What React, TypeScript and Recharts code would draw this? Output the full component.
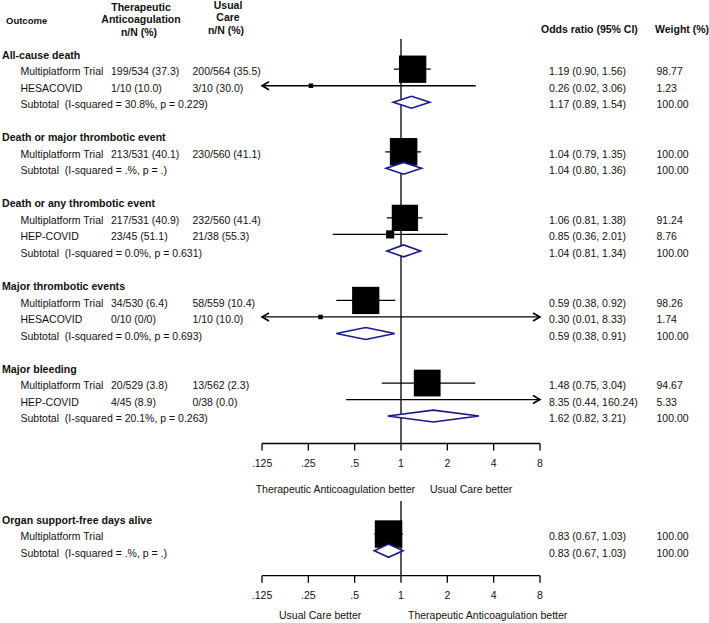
import React from 'react';
import { ScatterChart, Scatter, XAxis, YAxis, ReferenceLine } from 'recharts';

const FONT = '"Liberation Sans", Arial, Helvetica, sans-serif';
const TEXT = '#111';
const NAVY = '#16198a';

// ---------- main panel data ----------
const outcomes = [
  'All-cause death',
  'Death or major thrombotic event',
  'Death or any thrombotic event',
  'Major thrombotic events',
  'Major bleeding',
];
const studyOutcome = [0, 0, 1, 2, 2, 3, 3, 4, 4];
const studyNames = [
  'Multiplatform Trial', 'HESACOVID',
  'Multiplatform Trial',
  'Multiplatform Trial', 'HEP-COVID',
  'Multiplatform Trial', 'HESACOVID',
  'Multiplatform Trial', 'HEP-COVID',
];
const taCounts = ['199/534 (37.3)', '1/10 (10.0)', '213/531 (40.1)', '217/531 (40.9)', '23/45 (51.1)', '34/530 (6.4)', '0/10 (0/0)', '20/529 (3.8)', '4/45 (8.9)'];
const ucCounts = ['200/564 (35.5)', '3/10 (30.0)', '230/560 (41.1)', '232/560 (41.4)', '21/38 (55.3)', '58/559 (10.4)', '1/10 (10.0)', '13/562 (2.3)', '0/38 (0.0)'];
const studyOR = [1.19, 0.26, 1.04, 1.06, 0.85, 0.59, 0.30, 1.48, 8.35];
const studyLo = [0.90, 0.02, 0.79, 0.81, 0.36, 0.38, 0.01, 0.75, 0.44];
const studyHi = [1.56, 3.06, 1.35, 1.38, 2.01, 0.92, 8.33, 3.04, 160.24];
const studyWeight = [98.77, 1.23, 100.0, 91.24, 8.76, 98.26, 1.74, 94.67, 5.33];
const subtotalLabels = [
  'Subtotal  (I-squared = 30.8%, p = 0.229)',
  'Subtotal  (I-squared = .%, p = .)',
  'Subtotal  (I-squared = 0.0%, p = 0.631)',
  'Subtotal  (I-squared = 0.0%, p = 0.693)',
  'Subtotal  (I-squared = 20.1%, p = 0.263)',
];
const subtotalOR = [1.17, 1.04, 1.04, 0.59, 1.62];
const subtotalLo = [0.89, 0.80, 0.81, 0.38, 0.82];
const subtotalHi = [1.54, 1.36, 1.34, 0.91, 3.21];
const subtotalWeight = [100, 100, 100, 100, 100];

// ---------- organ support panel data ----------
const organOutcomes = ['Organ support-free days alive'];
const organStudyOutcome = [0];
const organStudyNames = ['Multiplatform Trial'];
const organTa = [''];
const organUc = [''];
const organOR = [0.83];
const organLo = [0.67];
const organHi = [1.03];
const organWeight = [100.0];
const organSubLabels = ['Subtotal  (I-squared = .%, p = .)'];
const organSubOR = [0.83];
const organSubLo = [0.67];
const organSubHi = [1.03];
const organSubWeight = [100];

// ---------- axis ----------
const tickValues = [0.125, 0.25, 0.5, 1, 2, 4, 8];
const tickLabels = ['.125', '.25', '.5', '1', '2', '4', '8'];
const X_MIN = 0.125;
const X_MAX = 8;

const fmtCI = (o: number, l: number, h: number) => `${o.toFixed(2)} (${l.toFixed(2)}, ${h.toFixed(2)})`;

function buildPanel(
  outNames: string[], sOut: number[], names: string[], ta: string[], uc: string[],
  or: number[], lo: number[], hi: number[], wt: number[],
  subLab: string[], subOr: number[], subLo: number[], subHi: number[], subWt: number[],
) {
  const rows: any[] = [];
  const studies: any[] = [];
  const subs: any[] = [];
  let r = 0;
  outNames.forEach((name, g) => {
    rows.push({ x: 1, y: r, kind: 'header', label: name });
    r++;
    names.forEach((n, i) => {
      if (sOut[i] !== g) return;
      rows.push({ x: 1, y: r, kind: 'study', label: n, ta: ta[i], uc: uc[i], ci: fmtCI(or[i], lo[i], hi[i]), wt: wt[i].toFixed(2) });
      studies.push({ y: r, or: or[i], lo: lo[i], hi: hi[i], wt: wt[i] });
      r++;
    });
    rows.push({ x: 1, y: r, kind: 'subtotal', label: subLab[g], ci: fmtCI(subOr[g], subLo[g], subHi[g]), wt: subWt[g].toFixed(2) });
    subs.push({ y: r, or: subOr[g], lo: subLo[g], hi: subHi[g] });
    r++;
    r++;
  });
  return { rows, studies, subs };
}

const mainPanel = buildPanel(outcomes, studyOutcome, studyNames, taCounts, ucCounts, studyOR, studyLo, studyHi, studyWeight,
  subtotalLabels, subtotalOR, subtotalLo, subtotalHi, subtotalWeight);
const organPanel = buildPanel(organOutcomes, organStudyOutcome, organStudyNames, organTa, organUc, organOR, organLo, organHi, organWeight,
  organSubLabels, organSubOR, organSubLo, organSubHi, organSubWeight);

const FS = 10.5;

const TextRow = (props: any) => {
  const { cy, payload } = props;
  const y = cy + 2.3;
  const common = { y, dy: '0.36em', fontFamily: FONT, fontSize: FS, fill: TEXT } as any;
  if (payload.kind === 'header') {
    return <text {...common} x={2} fontWeight="bold" fontSize={10.6}>{payload.label}</text>;
  }
  if (payload.kind === 'study') {
    return (
      <g>
        <text {...common} x={20.5}>{payload.label}</text>
        <text {...common} x={111}>{payload.ta}</text>
        <text {...common} x={192.5}>{payload.uc}</text>
        <text {...common} x={549}>{payload.ci}</text>
        <text {...common} x={656.5}>{payload.wt}</text>
      </g>
    );
  }
  return (
    <g>
      <text {...common} x={20.5} style={{ whiteSpace: 'pre' }}>{payload.label}</text>
      <text {...common} x={549}>{payload.ci}</text>
      <text {...common} x={656.5}>{payload.wt}</text>
    </g>
  );
};

const Square = (props: any) => {
  const { cx, cy, payload } = props;
  const s = Math.max(4.5, 27.5 * Math.sqrt(payload.wt / 100));
  return <rect x={cx - s / 2} y={cy - s / 2} width={s} height={s} fill="#000" />;
};

const CILine = (p: any) => {
  const { x1, y1, x2, y2, leftArrow, rightArrow } = p;
  return (
    <g>
      <line x1={x1} y1={y1} x2={x2} y2={y2} stroke="#000" strokeWidth={1.3} />
      {leftArrow && (
        <polyline points={`${x1 + 7},${y1 - 4} ${x1},${y1} ${x1 + 7},${y1 + 4}`} fill="none" stroke="#000" strokeWidth={1.6} />
      )}
      {rightArrow && (
        <polyline points={`${x2 - 7},${y2 - 4} ${x2},${y2} ${x2 - 7},${y2 + 4}`} fill="none" stroke="#000" strokeWidth={1.6} />
      )}
    </g>
  );
};

const tickFmt = (v: number) => {
  let best = 0;
  tickValues.forEach((t, i) => { if (Math.abs(t - v) < Math.abs(tickValues[best] - v)) best = i; });
  return tickLabels[best];
};

function Panel({ panel, height, axisHeight, yDomain, vTop, dh }: any) {
  const { rows, studies, subs } = panel;
  const squares = studies.filter((s: any) => s.or >= X_MIN && s.or <= X_MAX).map((s: any) => ({ x: s.or, y: s.y, wt: s.wt }));
  return (
    <ScatterChart width={709} height={height} margin={{ top: 0, right: 169, bottom: 0, left: 262 }}>
      <XAxis
        type="number" dataKey="x" scale="log" domain={[X_MIN, X_MAX]} ticks={tickValues} tickFormatter={tickFmt}
        interval={0} height={axisHeight}
        axisLine={{ stroke: '#000', strokeWidth: 1.3 }} tickLine={{ stroke: '#000', strokeWidth: 1.3 }}
        tickSize={7} tickMargin={9} tick={{ fill: TEXT, fontSize: FS, fontFamily: FONT }}
      />
      <YAxis type="number" dataKey="y" domain={yDomain} reversed hide width={0} />
      {studies.map((s: any, i: number) => {
        const lo = Math.max(s.lo, X_MIN);
        const hi = Math.min(s.hi, X_MAX);
        const la = s.lo < X_MIN;
        const ra = s.hi > X_MAX;
        return (
          <ReferenceLine key={'ci' + i} segment={[{ x: lo, y: s.y }, { x: hi, y: s.y }]} ifOverflow="visible"
            shape={(p: any) => <CILine {...p} leftArrow={la} rightArrow={ra} />} />
        );
      })}
      <Scatter data={squares} shape={Square} isAnimationActive={false} />
      {subs.map((s: any, i: number) => (
        <Scatter key={'d' + i}
          data={[{ x: s.lo, y: s.y }, { x: s.or, y: s.y - dh }, { x: s.hi, y: s.y }, { x: s.or, y: s.y + dh }]}
          shape={() => <g />}
          line={(p: any) => (
            <polygon points={p.points.map((pt: any) => `${pt.x},${pt.y}`).join(' ')} fill="#fff" stroke={NAVY} strokeWidth={1.6} strokeLinejoin="miter" />
          )}
          isAnimationActive={false} />
      ))}
      <ReferenceLine segment={[{ x: 1, y: vTop }, { x: 1, y: yDomain[1] }]} ifOverflow="visible" stroke="#000" strokeWidth={1.3} />
      <Scatter data={rows} shape={TextRow} isAnimationActive={false} />
    </ScatterChart>
  );
}

export default function App() {
  const bold = { fontFamily: FONT, fontWeight: 'bold', fill: TEXT } as any;
  const reg = { fontFamily: FONT, fontSize: FS, fill: TEXT } as any;
  return (
    <div style={{ position: 'absolute', left: 0, top: 0, width: 709, height: 623, background: '#fff', overflow: 'hidden' }}>
      <div style={{ position: 'absolute', left: 0, top: 0 }}>
        <Panel panel={mainPanel} height={480} axisHeight={36.5} yDomain={[-3.19, 23.66]} vTop={-0.83} dh={0.36} />
      </div>
      <div style={{ position: 'absolute', left: 0, top: 480 }}>
        <Panel panel={organPanel} height={143} axisHeight={47.3} yDomain={[-2.26, 3.51]} vTop={-0.99} dh={0.4} />
      </div>
      <svg width={709} height={623} style={{ position: 'absolute', left: 0, top: 0, pointerEvents: 'none' }}>
        <text {...bold} x={6} y={24.4} fontSize={9.5}>Outcome</text>
        <text {...bold} x={141} y={10.5} fontSize={FS} textAnchor="middle">Therapeutic</text>
        <text {...bold} x={141} y={23.3} fontSize={FS} textAnchor="middle">Anticoagulation</text>
        <text {...bold} x={139} y={36.2} fontSize={FS} textAnchor="middle">n/N (%)</text>
        <text {...bold} x={228} y={9.1} fontSize={FS} textAnchor="middle">Usual</text>
        <text {...bold} x={228} y={21.4} fontSize={FS} textAnchor="middle">Care</text>
        <text {...bold} x={226} y={34.3} fontSize={FS} textAnchor="middle">n/N (%)</text>
        <text {...bold} x={541} y={32.8} fontSize={FS}>Odds ratio (95% CI)</text>
        <text {...bold} x={655} y={32.8} fontSize={FS}>Weight (%)</text>
        <text {...reg} x={415} y={492.8} textAnchor="end">Therapeutic Anticoagulation better</text>
        <text {...reg} x={430} y={492.8}>Usual Care better</text>
        <text {...reg} x={279} y={618.5}>Usual Care better</text>
        <text {...reg} x={408} y={618.5}>Therapeutic Anticoagulation better</text>
      </svg>
    </div>
  );
}
